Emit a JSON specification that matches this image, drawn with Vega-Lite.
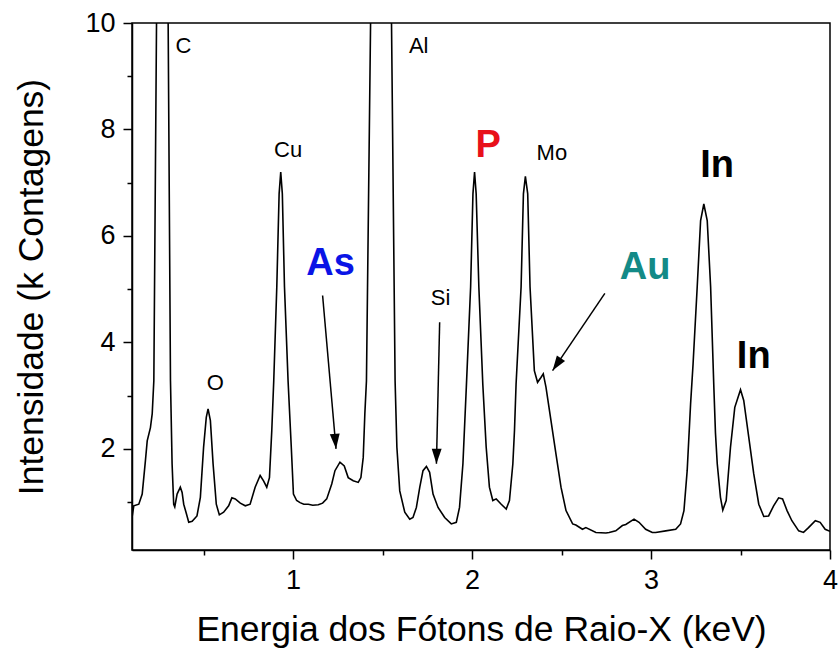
{
  "$schema": "https://vega.github.io/schema/vega-lite/v6.json",
  "width": 698,
  "height": 527,
  "autosize": {"type": "none"},
  "padding": {"left": 132, "top": 23, "right": 10, "bottom": 105},
  "background": "white",
  "config": {
    "font": "Liberation Sans",
    "view": {"stroke": "black", "strokeWidth": 1.5},
    "axis": {
      "domainColor": "black",
      "domainWidth": 1.5,
      "tickColor": "black",
      "tickWidth": 1.5,
      "labelColor": "black",
      "titleColor": "black",
      "titleFontWeight": "normal",
      "labelFont": "Liberation Sans",
      "titleFont": "Liberation Sans",
      "grid": false,
      "labelOverlap": false,
      "labelFlush": false
    }
  },
  "datasets": {
    "spectrum": [
      {"energy": 0.10, "counts": 0.71}, {"energy": 0.11, "counts": 0.93}, {"energy": 0.138, "counts": 0.96},
      {"energy": 0.157, "counts": 1.15}, {"energy": 0.175, "counts": 1.78}, {"energy": 0.185, "counts": 2.15},
      {"energy": 0.203, "counts": 2.40}, {"energy": 0.213, "counts": 2.66}, {"energy": 0.222, "counts": 3.28},
      {"energy": 0.237, "counts": 10.0}, {"energy": 0.255, "counts": 22}, {"energy": 0.27, "counts": 28},
      {"energy": 0.285, "counts": 22}, {"energy": 0.302, "counts": 10.0}, {"energy": 0.315, "counts": 3.28},
      {"energy": 0.324, "counts": 1.72}, {"energy": 0.333, "counts": 0.96}, {"energy": 0.339, "counts": 0.91},
      {"energy": 0.352, "counts": 1.15}, {"energy": 0.370, "counts": 1.28}, {"energy": 0.380, "counts": 1.18},
      {"energy": 0.389, "counts": 0.96}, {"energy": 0.404, "counts": 0.78}, {"energy": 0.417, "counts": 0.62},
      {"energy": 0.436, "counts": 0.64}, {"energy": 0.463, "counts": 0.74}, {"energy": 0.482, "counts": 1.09},
      {"energy": 0.500, "counts": 2.03}, {"energy": 0.515, "counts": 2.59}, {"energy": 0.525, "counts": 2.75},
      {"energy": 0.538, "counts": 2.53}, {"energy": 0.553, "counts": 1.72}, {"energy": 0.571, "counts": 0.96},
      {"energy": 0.588, "counts": 0.76}, {"energy": 0.612, "counts": 0.81}, {"energy": 0.640, "counts": 0.93},
      {"energy": 0.658, "counts": 1.08}, {"energy": 0.677, "counts": 1.06}, {"energy": 0.705, "counts": 0.98},
      {"energy": 0.733, "counts": 0.93}, {"energy": 0.760, "counts": 0.96}, {"energy": 0.788, "counts": 1.28},
      {"energy": 0.816, "counts": 1.50}, {"energy": 0.835, "counts": 1.40}, {"energy": 0.853, "counts": 1.28},
      {"energy": 0.868, "counts": 1.46}, {"energy": 0.881, "counts": 2.34}, {"energy": 0.892, "counts": 3.28},
      {"energy": 0.909, "counts": 5.04}, {"energy": 0.922, "counts": 6.79}, {"energy": 0.931, "counts": 7.20},
      {"energy": 0.940, "counts": 6.79}, {"energy": 0.952, "counts": 5.04}, {"energy": 0.972, "counts": 3.28},
      {"energy": 0.990, "counts": 2.03}, {"energy": 1.002, "counts": 1.15}, {"energy": 1.02, "counts": 1.03},
      {"energy": 1.039, "counts": 0.99}, {"energy": 1.060, "counts": 0.96}, {"energy": 1.085, "counts": 0.96},
      {"energy": 1.110, "counts": 0.94}, {"energy": 1.141, "counts": 0.95}, {"energy": 1.165, "counts": 0.98},
      {"energy": 1.188, "counts": 1.06}, {"energy": 1.216, "counts": 1.34}, {"energy": 1.234, "counts": 1.59},
      {"energy": 1.262, "counts": 1.75}, {"energy": 1.286, "counts": 1.68}, {"energy": 1.308, "counts": 1.46},
      {"energy": 1.336, "counts": 1.40}, {"energy": 1.364, "counts": 1.37}, {"energy": 1.379, "counts": 1.46},
      {"energy": 1.392, "counts": 1.84}, {"energy": 1.401, "counts": 2.66}, {"energy": 1.410, "counts": 3.28},
      {"energy": 1.433, "counts": 10.0}, {"energy": 1.46, "counts": 30}, {"energy": 1.49, "counts": 38},
      {"energy": 1.52, "counts": 30}, {"energy": 1.550, "counts": 10.0}, {"energy": 1.570, "counts": 3.28},
      {"energy": 1.580, "counts": 2.03}, {"energy": 1.596, "counts": 1.21}, {"energy": 1.624, "counts": 0.81},
      {"energy": 1.652, "counts": 0.68}, {"energy": 1.670, "counts": 0.71}, {"energy": 1.689, "counts": 0.90},
      {"energy": 1.708, "counts": 1.28}, {"energy": 1.726, "counts": 1.59}, {"energy": 1.745, "counts": 1.67},
      {"energy": 1.763, "counts": 1.56}, {"energy": 1.782, "counts": 1.15}, {"energy": 1.810, "counts": 0.90},
      {"energy": 1.847, "counts": 0.71}, {"energy": 1.884, "counts": 0.59}, {"energy": 1.912, "counts": 0.62},
      {"energy": 1.930, "counts": 0.90}, {"energy": 1.949, "counts": 1.72}, {"energy": 1.968, "counts": 3.16},
      {"energy": 1.992, "counts": 5.04}, {"energy": 2.005, "counts": 6.79}, {"energy": 2.014, "counts": 7.20},
      {"energy": 2.023, "counts": 6.79}, {"energy": 2.038, "counts": 5.04}, {"energy": 2.060, "counts": 3.22},
      {"energy": 2.079, "counts": 2.03}, {"energy": 2.097, "counts": 1.28}, {"energy": 2.116, "counts": 1.03},
      {"energy": 2.135, "counts": 1.06}, {"energy": 2.163, "counts": 0.96}, {"energy": 2.191, "counts": 0.87},
      {"energy": 2.209, "counts": 1.03}, {"energy": 2.228, "counts": 1.72}, {"energy": 2.237, "counts": 2.34},
      {"energy": 2.246, "counts": 3.22}, {"energy": 2.274, "counts": 5.04}, {"energy": 2.287, "counts": 6.79},
      {"energy": 2.298, "counts": 7.12}, {"energy": 2.311, "counts": 6.79}, {"energy": 2.324, "counts": 5.04},
      {"energy": 2.348, "counts": 3.47}, {"energy": 2.366, "counts": 3.25}, {"energy": 2.385, "counts": 3.34},
      {"energy": 2.398, "counts": 3.41}, {"energy": 2.413, "counts": 3.16}, {"energy": 2.441, "counts": 2.53},
      {"energy": 2.469, "counts": 1.90}, {"energy": 2.497, "counts": 1.28}, {"energy": 2.525, "counts": 0.84},
      {"energy": 2.562, "counts": 0.59}, {"energy": 2.58, "counts": 0.57}, {"energy": 2.617, "counts": 0.49},
      {"energy": 2.636, "counts": 0.52}, {"energy": 2.692, "counts": 0.43}, {"energy": 2.748, "counts": 0.42},
      {"energy": 2.766, "counts": 0.43}, {"energy": 2.803, "counts": 0.46}, {"energy": 2.840, "counts": 0.56},
      {"energy": 2.859, "counts": 0.58}, {"energy": 2.905, "counts": 0.68}, {"energy": 2.933, "counts": 0.62},
      {"energy": 2.970, "counts": 0.49}, {"energy": 3.007, "counts": 0.43}, {"energy": 3.026, "counts": 0.43},
      {"energy": 3.082, "counts": 0.46}, {"energy": 3.138, "counts": 0.49}, {"energy": 3.165, "counts": 0.59},
      {"energy": 3.184, "counts": 0.84}, {"energy": 3.202, "counts": 1.59}, {"energy": 3.221, "counts": 2.84},
      {"energy": 3.235, "counts": 3.6}, {"energy": 3.258, "counts": 5.04}, {"energy": 3.277, "counts": 6.29},
      {"energy": 3.295, "counts": 6.60}, {"energy": 3.314, "counts": 6.29}, {"energy": 3.333, "counts": 5.04},
      {"energy": 3.351, "counts": 3.16}, {"energy": 3.360, "counts": 2.3}, {"energy": 3.370, "counts": 1.72},
      {"energy": 3.388, "counts": 1.09}, {"energy": 3.401, "counts": 0.85}, {"energy": 3.420, "counts": 1.03},
      {"energy": 3.444, "counts": 2.03}, {"energy": 3.468, "counts": 2.78}, {"energy": 3.500, "counts": 3.11},
      {"energy": 3.518, "counts": 2.91}, {"energy": 3.546, "counts": 2.22}, {"energy": 3.574, "counts": 1.53},
      {"energy": 3.602, "counts": 0.96}, {"energy": 3.630, "counts": 0.73}, {"energy": 3.657, "counts": 0.74},
      {"energy": 3.685, "counts": 0.93}, {"energy": 3.713, "counts": 1.08}, {"energy": 3.735, "counts": 1.06},
      {"energy": 3.760, "counts": 0.84}, {"energy": 3.787, "counts": 0.65}, {"energy": 3.825, "counts": 0.46},
      {"energy": 3.852, "counts": 0.43}, {"energy": 3.880, "counts": 0.52}, {"energy": 3.918, "counts": 0.65},
      {"energy": 3.945, "counts": 0.62}, {"energy": 3.973, "counts": 0.49}, {"energy": 4.0, "counts": 0.45}
    ],
    "smallLabels": [
      {"label": "C", "energy": 0.387, "counts": 9.56},
      {"label": "Cu", "energy": 0.972, "counts": 7.62},
      {"label": "O", "energy": 0.566, "counts": 3.24},
      {"label": "Al", "energy": 1.702, "counts": 9.57},
      {"label": "Si", "energy": 1.824, "counts": 4.84},
      {"label": "Mo", "energy": 2.446, "counts": 7.55}
    ],
    "bigLabels": [
      {"label": "As", "energy": 1.209, "counts": 5.48},
      {"label": "P", "energy": 2.090, "counts": 7.68},
      {"label": "Au", "energy": 2.967, "counts": 5.39},
      {"label": "In", "energy": 3.369, "counts": 7.32},
      {"label": "In", "energy": 3.574, "counts": 3.72}
    ],
    "arrows": [
      {"label": "As", "x1": 1.165, "y1": 4.88, "x2": 1.240, "y2": 2.00},
      {"label": "Si", "x1": 1.819, "y1": 4.38, "x2": 1.801, "y2": 1.72},
      {"label": "Au", "x1": 2.742, "y1": 4.92, "x2": 2.450, "y2": 3.47}
    ]
  },
  "layer": [
    {
      "data": {"name": "spectrum"},
      "mark": {"type": "line", "clip": true, "color": "black", "strokeWidth": 1.6},
      "encoding": {
        "x": {
          "field": "energy", "type": "quantitative",
          "scale": {"domain": [0.1, 4], "nice": false, "zero": false},
          "axis": {
            "title": "Energia dos Fótons de Raio-X (keV)",
            "values": [0.5, 1, 1.5, 2, 2.5, 3, 3.5, 4],
            "labelExpr": "datum.value % 1 === 0 ? format(datum.value, 'd') : ''",
            "tickSize": {"condition": {"test": "datum.value % 1 === 0", "value": 9}, "value": 5},
            "labelFontSize": 27,
            "labelPadding": 8,
            "titleFontSize": 35.5,
            "titlePadding": 19
          }
        },
        "y": {
          "field": "counts", "type": "quantitative",
          "scale": {"domain": [0.1, 10], "nice": false, "zero": false},
          "axis": {
            "title": "Intensidade (k Contagens)",
            "values": [1, 2, 3, 4, 5, 6, 7, 8, 9, 10],
            "labelExpr": "datum.value % 2 === 0 ? format(datum.value, 'd') : ''",
            "tickSize": {"condition": {"test": "datum.value % 2 === 0", "value": 9}, "value": 5},
            "labelFontSize": 27,
            "labelPadding": 8,
            "titleFontSize": 35.5,
            "titlePadding": 35
          }
        }
      }
    },
    {
      "data": {"name": "arrows"},
      "mark": {"type": "rule", "color": "black", "strokeWidth": 1.5},
      "encoding": {
        "x": {"field": "x1", "type": "quantitative"},
        "y": {"field": "y1", "type": "quantitative"},
        "x2": {"field": "x2"},
        "y2": {"field": "y2"}
      }
    },
    {
      "data": {"name": "arrows"},
      "transform": [{"filter": "datum.label === 'As'"}],
      "mark": {"type": "point", "shape": "M0,0L-0.33,-1L0.33,-1Z", "size": 900, "filled": true, "color": "black", "opacity": 1, "angle": -5},
      "encoding": {
        "x": {"field": "x2", "type": "quantitative"},
        "y": {"field": "y2", "type": "quantitative"}
      }
    },
    {
      "data": {"name": "arrows"},
      "transform": [{"filter": "datum.label === 'Si'"}],
      "mark": {"type": "point", "shape": "M0,0L-0.33,-1L0.33,-1Z", "size": 900, "filled": true, "color": "black", "opacity": 1, "angle": 1},
      "encoding": {
        "x": {"field": "x2", "type": "quantitative"},
        "y": {"field": "y2", "type": "quantitative"}
      }
    },
    {
      "data": {"name": "arrows"},
      "transform": [{"filter": "datum.label === 'Au'"}],
      "mark": {"type": "point", "shape": "M0,0L-0.33,-1L0.33,-1Z", "size": 900, "filled": true, "color": "black", "opacity": 1, "angle": 34},
      "encoding": {
        "x": {"field": "x2", "type": "quantitative"},
        "y": {"field": "y2", "type": "quantitative"}
      }
    },
    {
      "data": {"name": "smallLabels"},
      "mark": {"type": "text", "fontSize": 22, "color": "black", "align": "center", "baseline": "middle", "font": "Liberation Sans"},
      "encoding": {
        "x": {"field": "energy", "type": "quantitative"},
        "y": {"field": "counts", "type": "quantitative"},
        "text": {"field": "label"}
      }
    },
    {
      "data": {"name": "bigLabels"},
      "mark": {"type": "text", "fontSize": 38, "fontWeight": "bold", "align": "center", "baseline": "middle", "font": "Liberation Sans"},
      "encoding": {
        "x": {"field": "energy", "type": "quantitative"},
        "y": {"field": "counts", "type": "quantitative"},
        "text": {"field": "label"},
        "color": {
          "field": "label", "type": "nominal",
          "scale": {"domain": ["As", "P", "Au", "In"], "range": ["#0a14e6", "#e8101a", "#138a87", "#000000"]},
          "legend": null
        }
      }
    }
  ]
}
